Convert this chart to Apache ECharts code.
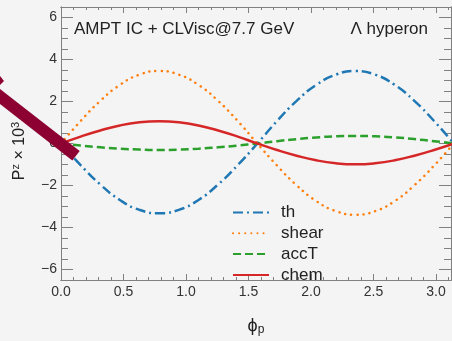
<!DOCTYPE html>
<html>
<head>
<meta charset="utf-8">
<script src="https://cdn.jsdelivr.net/npm/echarts@6/dist/echarts.min.js"></script>
<style>
  html, body { margin: 0; padding: 0; background: #f4f4f4; }
  #chart { width: 452px; height: 341px; }
</style>
</head>
<body>
<div id="chart"></div>
<script>
// phi_p sample points
const phi = [0, 0.157, 0.314, 0.471, 0.628, 0.785, 0.942, 1.100, 1.257, 1.414, 1.571,
             1.728, 1.885, 2.042, 2.199, 2.356, 2.513, 2.670, 2.827, 2.985, 3.142];
const th    = [0, -1.03, -1.95, -2.69, -3.16, -3.32, -3.16, -2.69, -1.95, -1.03, 0,
               1.07, 2.03, 2.79, 3.28, 3.45, 3.28, 2.79, 2.03, 1.07, 0];
const shear = [0, 1.07, 2.03, 2.79, 3.28, 3.45, 3.28, 2.79, 2.03, 1.07, 0,
               -1.05, -1.99, -2.74, -3.22, -3.39, -3.22, -2.74, -1.99, -1.05, 0];
const accT  = [0, -0.10, -0.18, -0.25, -0.29, -0.31, -0.29, -0.25, -0.18, -0.10, 0,
               0.11, 0.21, 0.29, 0.34, 0.36, 0.34, 0.29, 0.21, 0.11, 0];
const chem  = [0, 0.33, 0.62, 0.86, 1.01, 1.06, 1.01, 0.86, 0.62, 0.33, 0,
               -0.31, -0.58, -0.80, -0.94, -0.99, -0.94, -0.80, -0.58, -0.31, 0];

// tick positions
const xMajor = [0, 0.5, 1.0, 1.5, 2.0, 2.5, 3.0];
const xMinor = [0.1, 0.2, 0.3, 0.4, 0.6, 0.7, 0.8, 0.9, 1.1, 1.2, 1.3, 1.4, 1.6, 1.7, 1.8, 1.9,
                2.1, 2.2, 2.3, 2.4, 2.6, 2.7, 2.8, 2.9, 3.1];
const yMajor = [-6, -4, -2, 0, 2, 4, 6];
const yMinor = [-6.5, -5.5, -5, -4.5, -3.5, -3, -2.5, -1.5, -1, -0.5, 0.5, 1, 1.5,
                2.5, 3, 3.5, 4.5, 5, 5.5, 6.5];

const AX = '#808080';
const FONT = 'Liberation Sans';

const pairs = ys => phi.map((p, i) => [p, ys[i]]);

function xAx(pos, vals, len, labels) {
  return {
    type: 'value', position: pos, min: 0, max: 3.12,
    axisLine: { show: true, onZero: false, lineStyle: { color: AX, width: 1 } },
    axisTick: { show: true, inside: true, length: len, customValues: vals, lineStyle: { color: AX } },
    axisLabel: labels ? {
      show: true, customValues: xMajor, margin: 5, fontFamily: FONT, fontSize: 14, color: '#333',
      formatter: v => v.toFixed(1)
    } : { show: false },
    splitLine: { show: false }
  };
}
function yAx(pos, vals, len, labels) {
  return {
    type: 'value', position: pos, min: -6.5, max: 6.5,
    axisLine: { show: true, onZero: false, lineStyle: { color: AX, width: 1 } },
    axisTick: { show: true, inside: true, length: len, customValues: vals, lineStyle: { color: AX } },
    axisLabel: labels ? {
      show: true, customValues: yMajor, margin: 4, fontFamily: FONT, fontSize: 14, color: '#333',
      formatter: v => String(v).replace('-', '\u2212')
    } : { show: false },
    splitLine: { show: false }
  };
}

const xAxes = [xAx('bottom', xMajor, 6, true), xAx('bottom', xMinor, 3, false),
               xAx('top', xMajor, 6, false), xAx('top', xMinor, 3, false)];
xAxes[0].name = '{b|\u03d5}{s|p}';
xAxes[0].nameLocation = 'middle';
xAxes[0].nameGap = 36;
xAxes[0].nameTextStyle = {
  rich: {
    b: { fontFamily: FONT, fontSize: 18, color: '#222' },
    s: { fontFamily: FONT, fontSize: 12, color: '#222', padding: [8, 0, 0, 0] }
  }
};
const yAxes = [yAx('left', yMajor, 12, true), yAx('left', yMinor, 7, false),
               yAx('right', yMajor, 12, false), yAx('right', yMinor, 7, false)];

const chart = echarts.init(document.getElementById('chart'));
chart.setOption({
  backgroundColor: '#f4f4f4',
  animation: false,
  grid: { left: 61, right: 1, top: 7, bottom: 45 },
  xAxis: xAxes,
  yAxis: yAxes,
  legend: {
    data: ['th', 'shear', 'accT', 'chem'],
    orient: 'vertical', left: 232, top: 204, padding: 0,
    itemWidth: 36, itemHeight: 17, itemGap: 3.8,
    itemStyle: { opacity: 0 },
    textStyle: { fontFamily: FONT, fontSize: 17, color: '#222', padding: [0, 0, 0, 7] }
  },
  series: [
    { name: 'th', type: 'line', data: pairs(th), smooth: true, showSymbol: false, symbol: 'none',
      lineStyle: { color: '#1f77b4', width: 2.5, type: [10, 4, 2, 4] }, itemStyle: { color: '#1f77b4' } },
    { name: 'shear', type: 'line', data: pairs(shear), smooth: true, showSymbol: false, symbol: 'none',
      lineStyle: { color: '#ff7f0e', width: 2.5, type: [0.1, 6], cap: 'round' }, itemStyle: { color: '#ff7f0e' } },
    { name: 'accT', type: 'line', data: pairs(accT), smooth: true, showSymbol: false, symbol: 'none',
      lineStyle: { color: '#2ca02c', width: 2.5, type: [8, 4] }, itemStyle: { color: '#2ca02c' } },
    { name: 'chem', type: 'line', data: pairs(chem), smooth: true, showSymbol: false, symbol: 'none',
      lineStyle: { color: '#d62728', width: 2.5 }, itemStyle: { color: '#d62728' } }
  ],
  graphic: [
    { type: 'text', left: 74, top: 21, z: 10,
      style: { text: 'AMPT IC + CLVisc@7.7 GeV', fontFamily: FONT, fontSize: 17, fill: '#222' } },
    { type: 'text', right: 24, top: 21, z: 10,
      style: { text: '\u039b hyperon', fontFamily: FONT, fontSize: 17, fill: '#222' } },
    { type: 'text', x: 20, y: 151, rotation: Math.PI / 2, z: 10,
      style: {
        text: 'P{s|z} \u00d7 10{s|3}', fontFamily: FONT, fontSize: 16, fill: '#222',
        align: 'center', verticalAlign: 'middle',
        rich: { s: { fontFamily: FONT, fontSize: 11, fill: '#222', padding: [0, 0, 8, 0] } }
      } },
    { type: 'line', z: 100,
      shape: { x1: -10, y1: 88.7, x2: 76, y2: 155.8 },
      style: { stroke: '#8c0032', lineWidth: 12, lineCap: 'butt' } },
    { type: 'polygon', z: 100,
      shape: { points: [[0, 76], [4, 81], [0, 85]] },
      style: { fill: '#8c0032' } }
  ]
});
</script>
</body>
</html>
